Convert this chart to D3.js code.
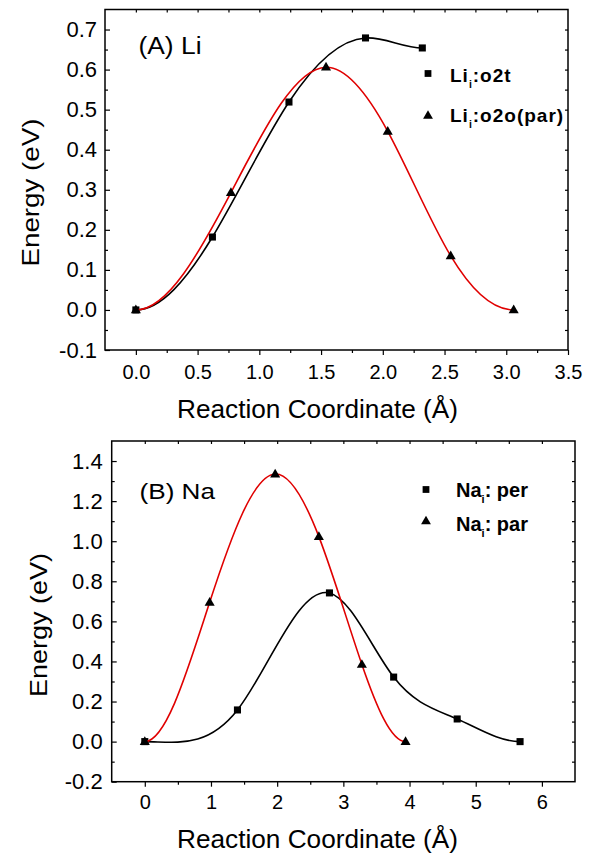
<!DOCTYPE html>
<html>
<head>
<meta charset="utf-8">
<script src="https://cdn.jsdelivr.net/npm/d3@7"></script>
<style>
  html, body { margin: 0; padding: 0; background: #fff; }
  svg { display: block; }
  text { font-family: "Liberation Sans", Arial, Helvetica, sans-serif; fill: #000; }
</style>
</head>
<body>
<svg id="chart" width="592" height="854"></svg>
<script>
// ---------- data ----------
// Panel A (Li)
const liO2tX = [0, 0.62, 1.24, 1.86, 2.32];
const liO2tY = [0, 0.182, 0.519, 0.679, 0.654];
const liO2oX = [0, 0.77, 1.54, 2.04, 2.55, 3.06];
const liO2oY = [0, 0.293, 0.606, 0.446, 0.135, 0];
// Panel B (Na)
const naPerX = [0, 1.4, 2.79, 3.76, 4.72, 5.67];
const naPerY = [0, 0.158, 0.742, 0.322, 0.113, 0];
const naParX = [0, 0.98, 1.97, 2.63, 3.28, 3.94];
const naParY = [0, 0.695, 1.335, 1.023, 0.385, 0];

// tick values
const aXMajor = [0, 0.5, 1.0, 1.5, 2.0, 2.5, 3.0, 3.5];
const aXMinor = [0.25, 0.75, 1.25, 1.75, 2.25, 2.75, 3.25];
const aYMajor = [-0.1, 0, 0.1, 0.2, 0.3, 0.4, 0.5, 0.6, 0.7];
const aYMinor = [-0.05, 0.05, 0.15, 0.25, 0.35, 0.45, 0.55, 0.65];
const bXMajor = [0, 1, 2, 3, 4, 5, 6];
const bXMinor = [-0.5, 0.5, 1.5, 2.5, 3.5, 4.5, 5.5];
const bYMajor = [-0.2, 0, 0.2, 0.4, 0.6, 0.8, 1.0, 1.2, 1.4];
const bYMinor = [-0.1, 0.1, 0.3, 0.5, 0.7, 0.9, 1.1, 1.3];

const RED = "#e00000";
const svg = d3.select("#chart");

// Cubic spline curve for d3.line with zero end slopes (clamped), C2 in the interior
function ClampedSpline(context) { this._context = context; }
ClampedSpline.prototype = {
  areaStart() { this._line = 0; },
  areaEnd() { this._line = NaN; },
  lineStart() { this._x = []; this._y = []; },
  point(x, y) { this._x.push(+x); this._y.push(+y); },
  lineEnd() {
    const x = this._x, y = this._y, n = x.length, ctx = this._context;
    if (n) {
      ctx.moveTo(x[0], y[0]);
      if (n === 2) { ctx.lineTo(x[1], y[1]); }
      else if (n > 2) {
        const h = [], d = [];
        for (let i = 0; i < n - 1; i++) { h[i] = x[i + 1] - x[i]; d[i] = (y[i + 1] - y[i]) / h[i]; }
        const m = new Array(n).fill(0);
        const k = n - 2, a = [], b = [], c = [], r = [];
        for (let j = 0; j < k; j++) {
          const i = j + 1;
          a[j] = h[i]; b[j] = 2 * (h[i - 1] + h[i]); c[j] = h[i - 1];
          r[j] = 3 * (h[i] * d[i - 1] + h[i - 1] * d[i]);
        }
        for (let j = 1; j < k; j++) {
          const w = a[j] / b[j - 1];
          b[j] -= w * c[j - 1]; r[j] -= w * r[j - 1];
        }
        const s = new Array(k);
        s[k - 1] = r[k - 1] / b[k - 1];
        for (let j = k - 2; j >= 0; j--) s[j] = (r[j] - c[j] * s[j + 1]) / b[j];
        for (let j = 0; j < k; j++) m[j + 1] = s[j];
        for (let i = 0; i < n - 1; i++) {
          ctx.bezierCurveTo(x[i] + h[i] / 3, y[i] + m[i] * h[i] / 3,
                            x[i + 1] - h[i] / 3, y[i + 1] - m[i + 1] * h[i] / 3,
                            x[i + 1], y[i + 1]);
        }
      }
    }
    this._x = this._y = null;
  }
};
const curveClamped = (ctx) => new ClampedSpline(ctx);

function zip(xs, ys) { return xs.map((x, i) => ({ x, y: ys[i] })); }
const fmt1 = (v) => d3.format(".1f")(v).replace("\u2212", "-");

function panel(cfg) {
  const { x, y, xMajor, xMinor, yMajor, yMinor, xFmt, yPad, xPad } = cfg;
  const [x0, x1] = x.range();
  const [y1, y0] = y.range();
  const g = svg.append("g");

  g.append("rect").attr("x", x0).attr("y", y0).attr("width", x1 - x0).attr("height", y1 - y0)
    .attr("fill", "none").attr("stroke", "#000").attr("stroke-width", 1.5);

  const styleAxis = (sel) => {
    sel.select(".domain").remove();
    sel.selectAll(".tick line").attr("stroke", "#000").attr("stroke-width", 1.2);
  };

  g.append("g").attr("transform", `translate(${x0},0)`)
    .call(d3.axisLeft(y).tickValues(yMajor).tickSize(-5).tickPadding(yPad).tickFormat(fmt1))
    .call(styleAxis)
    .call(s => s.selectAll("text").attr("font-size", 22).attr("font-family", '"Liberation Sans", Arial, sans-serif'));
  g.append("g").attr("transform", `translate(${x0},0)`)
    .call(d3.axisLeft(y).tickValues(yMinor).tickSize(-3).tickFormat(""))
    .call(styleAxis);

  g.append("g").attr("transform", `translate(0,${y1})`)
    .call(d3.axisBottom(x).tickValues(xMajor).tickSize(5).tickPadding(xPad).tickFormat(xFmt))
    .call(styleAxis)
    .call(s => s.selectAll("text").attr("font-size", 20).attr("font-family", '"Liberation Sans", Arial, sans-serif'));
  g.append("g").attr("transform", `translate(0,${y1})`)
    .call(d3.axisBottom(x).tickValues(xMinor.filter(v => v > x.domain()[0])).tickSize(3).tickFormat(""))
    .call(styleAxis);

  g.append("g").attr("transform", `translate(0,${y0})`)
    .call(d3.axisTop(x).tickValues(xMajor.concat(xMinor).filter(v => v > x.domain()[0] && v < x.domain()[1])).tickSize(-3).tickFormat(""))
    .call(styleAxis);
  g.append("g").attr("transform", `translate(${x1},0)`)
    .call(d3.axisRight(y).tickValues(yMajor.concat(yMinor).filter(v => v > y.domain()[0])).tickSize(-3).tickFormat(""))
    .call(styleAxis);

  return g;
}

function series(g, x, y, xs, ys, color, shape) {
  const pts = zip(xs, ys);
  const line = d3.line().x(d => x(d.x)).y(d => y(d.y)).curve(curveClamped);
  g.append("path").datum(pts).attr("d", line).attr("fill", "none")
    .attr("stroke", color).attr("stroke-width", 1.6);
  const sym = d3.symbol().type(shape === "square" ? d3.symbolSquare : d3.symbolTriangle)
    .size(shape === "square" ? 50 : 44);
  g.selectAll(null).data(pts).enter().append("path")
    .attr("d", sym)
    .attr("transform", d => `translate(${x(d.x)},${y(d.y) + (shape === "square" ? 0 : 0.5)})`)
    .attr("fill", "#000");
}

function legendItem(g, sx, sy, shape, tx, ty, base, sub, rest, fs, ls) {
  const sym = d3.symbol().type(shape === "square" ? d3.symbolSquare : d3.symbolTriangle)
    .size(shape === "square" ? 46 : 42);
  g.append("path").attr("d", sym).attr("transform", `translate(${sx},${sy})`).attr("fill", "#000");
  const t = g.append("text").attr("x", tx).attr("y", ty).attr("font-size", fs)
    .attr("font-weight", "bold").attr("letter-spacing", ls);
  t.append("tspan").text(base);
  t.append("tspan").attr("dy", 6).attr("font-size", fs * 0.55).text(sub);
  t.append("tspan").attr("dy", -6).text(rest);
}

// ---------- Panel A ----------
const xA = d3.scaleLinear().domain([-0.25, 3.5]).range([105, 568]);
const yA = d3.scaleLinear().domain([-0.1, 0.75]).range([350, 9.5]);
const gA = panel({ x: xA, y: yA, xMajor: aXMajor, xMinor: aXMinor, yMajor: aYMajor, yMinor: aYMinor,
  xFmt: fmt1, yPad: 8, xPad: 10 });
series(gA, xA, yA, liO2tX, liO2tY, "#000", "square");
series(gA, xA, yA, liO2oX, liO2oY, RED, "triangle");
legendItem(gA, 428, 73.5, "square", 450, 81.5, "Li", "i", ":o2t", 19, 1);
legendItem(gA, 428, 116, "triangle", 450, 121.5, "Li", "i", ":o2o(par)", 19, 1);
gA.append("text").attr("x", 138.5).attr("y", 53.5).attr("font-size", 23)
  .attr("textLength", 63).attr("lengthAdjust", "spacingAndGlyphs").text("(A) Li");
gA.append("text").attr("transform", "translate(38.5,192.5) rotate(-90)").attr("text-anchor", "middle")
  .attr("font-size", 24).attr("textLength", 148).attr("lengthAdjust", "spacingAndGlyphs").text("Energy (eV)");
gA.append("text").attr("x", 177).attr("y", 418).attr("font-size", 25)
  .attr("textLength", 281).attr("lengthAdjust", "spacingAndGlyphs").text("Reaction Coordinate (Å)");

// ---------- Panel B ----------
const xB = d3.scaleLinear().domain([-0.5, 6.5]).range([111.7, 575]);
const yB = d3.scaleLinear().domain([-0.2, 1.5]).range([781.7, 441]);
const gB = panel({ x: xB, y: yB, xMajor: bXMajor, xMinor: bXMinor, yMajor: bYMajor, yMinor: bYMinor,
  xFmt: d3.format("d"), yPad: 9, xPad: 8 });
series(gB, xB, yB, naPerX, naPerY, "#000", "square");
series(gB, xB, yB, naParX, naParY, RED, "triangle");
legendItem(gB, 426, 489.5, "square", 456, 497.3, "Na", "i", ": per", 20, 0);
legendItem(gB, 426, 521.5, "triangle", 456, 530.7, "Na", "i", ": par", 20, 0);
gB.append("text").attr("x", 139.5).attr("y", 499).attr("font-size", 22)
  .attr("textLength", 75.5).attr("lengthAdjust", "spacingAndGlyphs").text("(B) Na");
gB.append("text").attr("transform", "translate(47,625) rotate(-90)").attr("text-anchor", "middle")
  .attr("font-size", 24).attr("textLength", 144).attr("lengthAdjust", "spacingAndGlyphs").text("Energy (eV)");
gB.append("text").attr("x", 177).attr("y", 848).attr("font-size", 25)
  .attr("textLength", 281).attr("lengthAdjust", "spacingAndGlyphs").text("Reaction Coordinate (Å)");
</script>
</body>
</html>
